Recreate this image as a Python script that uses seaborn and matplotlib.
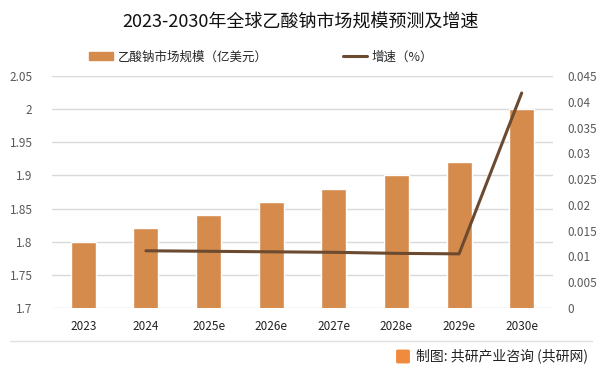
import pandas as pd
import seaborn as sns
import matplotlib.pyplot as plt
from matplotlib.lines import Line2D
from matplotlib.patches import Patch, FancyBboxPatch

# === Data ===
years = ["2023", "2024", "2025e", "2026e", "2027e", "2028e", "2029e", "2030e"]
market_size = [1.80, 1.82, 1.84, 1.86, 1.88, 1.90, 1.92, 2.00]
growth = [None, 0.0111, 0.0110, 0.0109, 0.0108, 0.0106, 0.0105, 0.0417]

left_ticks = [1.7, 1.75, 1.8, 1.85, 1.9, 1.95, 2, 2.05]
right_ticks = [0, 0.005, 0.01, 0.015, 0.02, 0.025, 0.03, 0.035, 0.04, 0.045]

df = pd.DataFrame({"year": years, "size": market_size, "growth": growth})

sns.set_theme(style="white")
plt.rcParams["font.family"] = ["Noto Sans CJK SC", "DejaVu Sans"]

bar_color = "#D48B4C"
line_color = "#6B4A30"
grid_color = "#D9D9D9"
tick_color = "#595959"

fig = plt.figure(figsize=(6.02, 3.74), dpi=100)
ax = fig.add_axes([52 / 602, 1 - 308 / 374, (553 - 52) / 602, (308 - 76) / 374])

# === Bars ===
sns.barplot(data=df, x="year", y="size", color=bar_color, width=0.4,
            saturation=1, ax=ax, zorder=2)
ax.set_ylim(1.7, 2.05)
ax.set_yticks(left_ticks)
ax.set_yticklabels(["1.7", "1.75", "1.8", "1.85", "1.9", "1.95", "2", "2.05"])
ax.set_xlabel("")
ax.set_ylabel("")
ax.yaxis.grid(True, color=grid_color, linewidth=1, zorder=0)
ax.set_axisbelow(True)
for s in ax.spines.values():
    s.set_visible(False)
ax.tick_params(axis="y", colors=tick_color, labelsize=8.5, length=0, pad=14)
ax.tick_params(axis="x", colors="#222222", labelsize=8.5, length=0, pad=9)

# === Growth line ===
ax2 = ax.twinx()
gdf = df.dropna()
sns.lineplot(x=[years.index(y) for y in gdf["year"]], y=gdf["growth"].tolist(),
             color=line_color, linewidth=2.2, ax=ax2)
ax2.set_ylim(0, 0.045)
ax2.set_yticks(right_ticks)
ax2.set_yticklabels(["0", "0.005", "0.01", "0.015", "0.02", "0.025", "0.03",
                     "0.035", "0.04", "0.045"])
ax2.set_ylabel("")
for s in ax2.spines.values():
    s.set_visible(False)
ax2.tick_params(axis="y", colors=tick_color, labelsize=8.5, length=0, pad=10)
ax.set_xlim(-0.5, len(years) - 0.5)

# === Title & legend ===
fig.text(0.5, 1 - 22 / 374, "2023-2030年全球乙酸钠市场规模预测及增速",
         ha="center", va="center", fontsize=13, color="#111111")
handles = [Patch(color=bar_color), Line2D([0], [0], color=line_color, linewidth=2.2)]
fig.legend(handles, ["乙酸钠市场规模（亿美元）", "增速（%）"],
           loc="center", bbox_to_anchor=(0.434, 1 - 57 / 374), ncol=2,
           frameon=False, fontsize=9, handlelength=1.9, handleheight=0.6,
           columnspacing=6.0, handletextpad=0.4)

# === Footer ===
fig.add_artist(Line2D([10 / 602, 592 / 602], [1 - 341 / 374] * 2,
                      color="#E0E0E0", linewidth=1, transform=fig.transFigure))
fig.add_artist(FancyBboxPatch((398 / 602, 1 - 362 / 374), 10 / 602, 11 / 374,
                              boxstyle="round,pad=0.002", color="#F08A3C",
                              transform=fig.transFigure))
fig.text(416 / 602, 1 - 356 / 374, "制图: 共研产业咨询 (共研网)",
         ha="left", va="center", fontsize=10, color="#222222")

plt.savefig("out.png", dpi=100)
